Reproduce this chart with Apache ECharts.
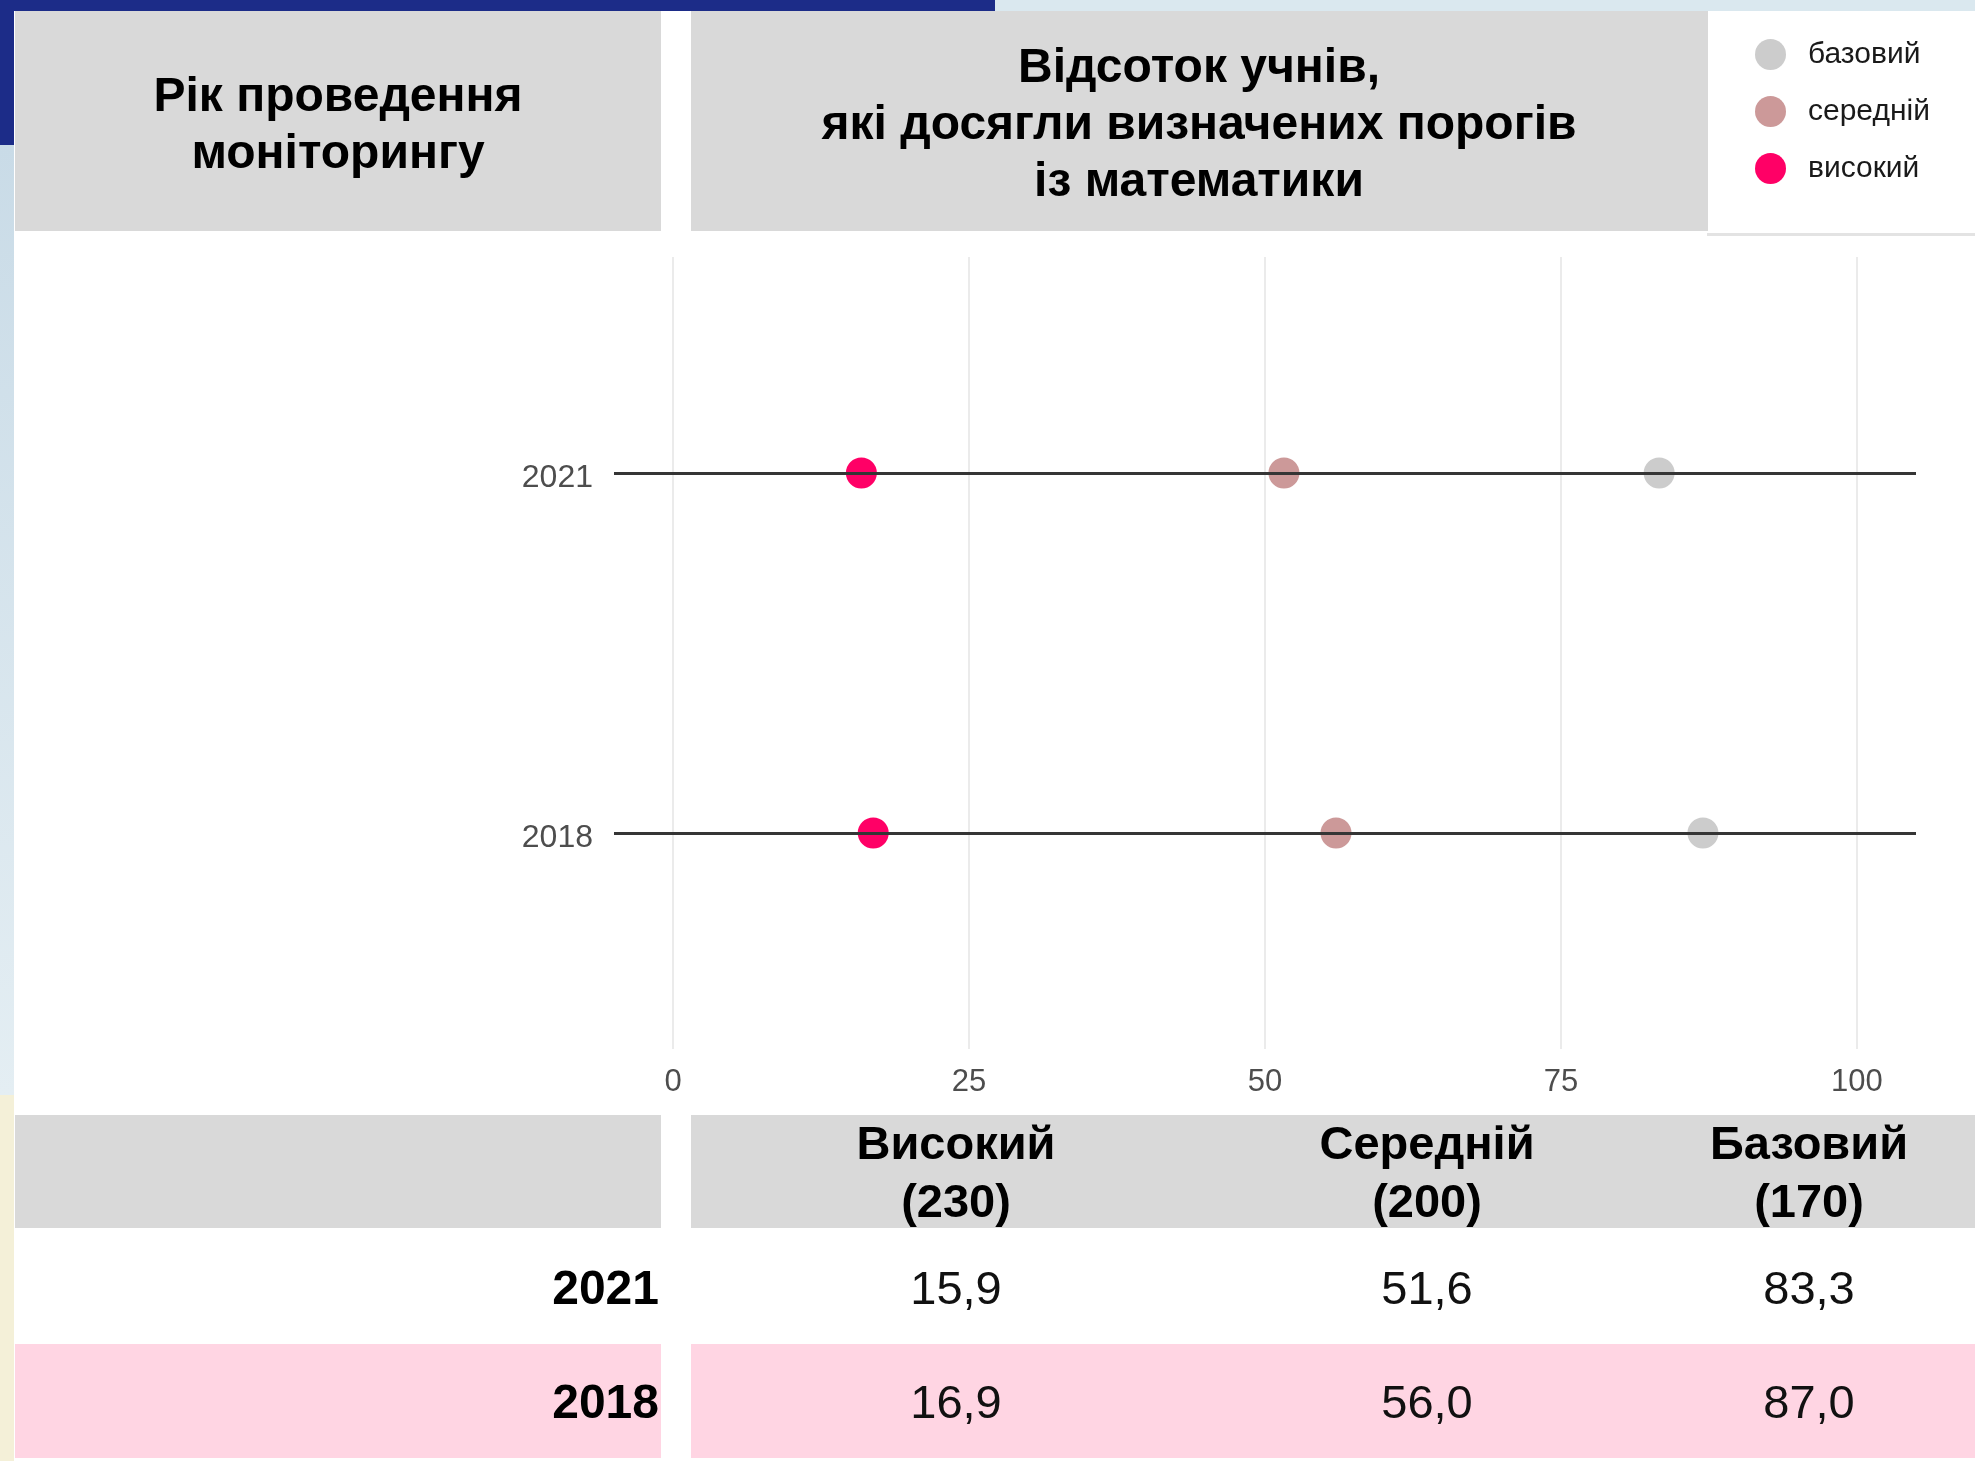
<!DOCTYPE html>
<html>
<head>
<meta charset="utf-8">
<script src="https://cdn.jsdelivr.net/npm/echarts@6/dist/echarts.min.js"></script>
<style>
html,body{margin:0;padding:0;background:#ffffff;}
#chart{width:1975px;height:1461px;}
</style>
</head>
<body>
<div id="chart"></div>
<script>
// ---- data ----
const years = ['2018', '2021'];            // y-axis categories (bottom to top)
const levelNames = ['базовий', 'середній', 'високий'];
const baseVals = [87.0, 83.3];             // 2018, 2021
const midVals  = [56.0, 51.6];
const highVals = [16.9, 15.9];
const xTicks = [0, 25, 50, 75, 100];
const tableHeaders = ['Високий', 'Середній', 'Базовий'];
const thresholds = [230, 200, 170];
const tableYears = ['2021', '2018'];
const titleLeft = 'Рік проведення\nмоніторингу';
const titleMain = 'Відсоток учнів,\nякі досягли визначених порогів\nіз математики';

const FONT = "'Liberation Sans', Arial, sans-serif";
const colors = { 'базовий': '#cccccc', 'середній': '#cc9999', 'високий': '#ff0066' };
const seriesVals = { 'базовий': baseVals, 'середній': midVals, 'високий': highVals };

function fmt(v) { return v.toFixed(1).replace('.', ','); }

const chart = echarts.init(document.getElementById('chart'), null, { renderer: 'canvas' });

// ---- graphic decorations: slide background, header boxes, table ----
const g = [];
g.push({ type: 'rect', shape: { x: 0, y: 0, width: 995, height: 11 }, style: { fill: '#1c2c88' }, z: -5 });
g.push({ type: 'rect', shape: { x: 995, y: 0, width: 980, height: 11 }, style: { fill: '#dae8ef' }, z: -5 });
g.push({ type: 'rect', shape: { x: 0, y: 0, width: 14, height: 145 }, style: { fill: '#1c2c88' }, z: -5 });
g.push({ type: 'rect', shape: { x: 0, y: 145, width: 14, height: 950 },
  style: { fill: new echarts.graphic.LinearGradient(0, 0, 0, 1, [{ offset: 0, color: '#c9dbe7' }, { offset: 1, color: '#e4eef3' }]) }, z: -5 });
g.push({ type: 'rect', shape: { x: 0, y: 1095, width: 14, height: 366 }, style: { fill: '#f4f0d8' }, z: -5 });

// header boxes
g.push({ type: 'rect', shape: { x: 15, y: 11, width: 646, height: 220 }, style: { fill: '#d9d9d9' } });
g.push({ type: 'rect', shape: { x: 691, y: 11, width: 1017, height: 220 }, style: { fill: '#d9d9d9' } });
g.push({ type: 'rect', shape: { x: 1707, y: 233, width: 268, height: 3 }, style: { fill: '#e3e3e3' } });
g.push({ type: 'text', x: 338, y: 126, style: { text: titleLeft, fill: '#000', fontSize: 48, fontWeight: 'bold', fontFamily: FONT, lineHeight: 57, align: 'center', verticalAlign: 'middle' } });
g.push({ type: 'text', x: 1199, y: 126, style: { text: titleMain, fill: '#000', fontSize: 48, fontWeight: 'bold', fontFamily: FONT, lineHeight: 57, align: 'center', verticalAlign: 'middle' } });

// table
const colX = [956, 1427, 1809];
g.push({ type: 'rect', shape: { x: 15, y: 1115, width: 646, height: 113 }, style: { fill: '#d9d9d9' } });
g.push({ type: 'rect', shape: { x: 691, y: 1115, width: 1284, height: 113 }, style: { fill: '#d9d9d9' } });
g.push({ type: 'rect', shape: { x: 15, y: 1344, width: 646, height: 114 }, style: { fill: '#ffd5e3' } });
g.push({ type: 'rect', shape: { x: 691, y: 1344, width: 1284, height: 114 }, style: { fill: '#ffd5e3' } });
tableHeaders.forEach((h, i) => {
  g.push({ type: 'text', x: colX[i], y: 1175, style: { text: h + '\n(' + thresholds[i] + ')', fill: '#000', fontSize: 47, fontWeight: 'bold', fontFamily: FONT, lineHeight: 58, align: 'center', verticalAlign: 'middle' } });
});
const rowY = [1291, 1405];
const tableCols = [highVals, midVals, baseVals];
tableYears.forEach((yr, r) => {
  const idx = years.indexOf(yr);
  g.push({ type: 'text', x: 659, y: rowY[r], style: { text: yr, fill: '#000', fontSize: 48, fontWeight: 'bold', fontFamily: FONT, align: 'right', verticalAlign: 'middle' } });
  tableCols.forEach((vals, c) => {
    g.push({ type: 'text', x: colX[c], y: rowY[r], style: { text: fmt(vals[idx]), fill: '#111', fontSize: 47, fontFamily: FONT, align: 'center', verticalAlign: 'middle' } });
  });
});

// ---- series ----
const series = [];
series.push({
  name: 'lines', type: 'scatter', data: [], z: 1, silent: true,
  markLine: {
    silent: true, symbol: ['none', 'none'], animation: false,
    label: { show: false },
    lineStyle: { color: '#353535', width: 3, type: 'solid' },
    emphasis: { disabled: true },
    data: years.map((y, i) => ({ yAxis: i }))
  }
});
levelNames.forEach(name => {
  series.push({
    name: name, type: 'scatter', symbol: 'circle', symbolSize: 31, z: 3,
    itemStyle: { color: colors[name], opacity: 1 },
    emphasis: { disabled: true },
    data: seriesVals[name].map((v, i) => [v, i])
  });
});

const option = {
  animation: false,
  backgroundColor: '#ffffff',
  textStyle: { fontFamily: FONT },
  grid: { left: 614, top: 257, width: 1302, height: 792, containLabel: false },
  xAxis: {
    type: 'value', min: -5, max: 105,
    axisLine: { show: false },
    axisTick: { show: false, customValues: xTicks },
    axisLabel: { customValues: xTicks, fontSize: 31, color: '#4d4d4d', margin: 18, fontFamily: FONT },
    splitLine: { show: true, lineStyle: { color: '#ebebeb', width: 2 } }
  },
  yAxis: {
    type: 'value', min: -0.6, max: 1.6,
    axisLine: { show: false },
    axisTick: { show: false, customValues: [0, 1] },
    axisLabel: { customValues: [0, 1], margin: 21,
      formatter: v => '{y|' + years[Math.round(v)] + '}',
      rich: { y: { fontSize: 32, color: '#4d4d4d', fontFamily: FONT, padding: [10, 0, 0, 0] } } },
    splitLine: { show: false }
  },
  legend: {
    data: levelNames,
    orient: 'vertical', left: 1750, top: 34,
    icon: 'circle', itemWidth: 31, itemHeight: 31, itemGap: 26,
    selectedMode: false,
    textStyle: { fontSize: 30, color: '#1a1a1a', fontFamily: FONT, padding: [0, 0, 0, 17] }
  },
  graphic: { elements: g },
  series: series
};
chart.setOption(option);
</script>
</body>
</html>
